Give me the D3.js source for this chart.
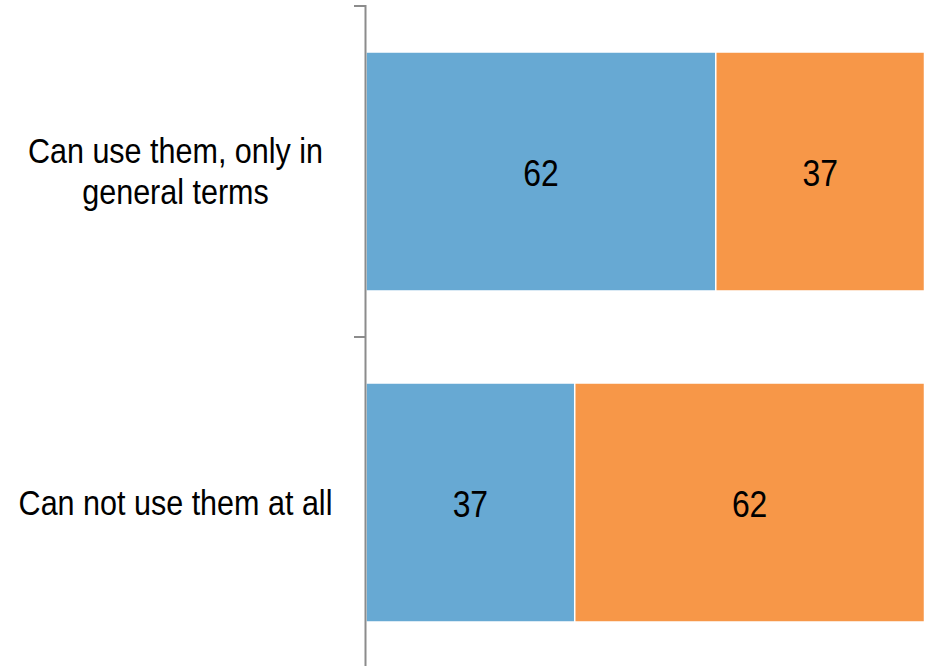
<!DOCTYPE html>
<html>
<head>
<meta charset="utf-8">
<script src="https://cdn.jsdelivr.net/npm/d3@7"></script>
<style>
  html, body { margin: 0; padding: 0; background: #fff; }
  svg { display: block; }
</style>
</head>
<body>
<svg id="chart" width="925" height="666"></svg>
<script>
// ---- data ----
const categories = [["Can use them, only in", "general terms"], ["Can not use them at all"]];
const categoryKeys = ["Can use them, only in general terms", "Can not use them at all"];
const seriesNames = ["Series A", "Series B"];
const seriesA = [62, 37];
const seriesB = [37, 62];
const colors = ["#67a9d3", "#f79748"];

const svg = d3.select("#chart");
const W = 925, H = 666;
const axisX = 366;

const rows = categoryKeys.map((k, i) => ({ key: k, lines: categories[i], values: [seriesA[i], seriesB[i]] }));

const x = d3.scaleLinear().domain([0, 99]).range([axisX, 924.5]);
const y = d3.scaleBand().domain(categoryKeys).range([6, 668]).paddingInner(0.278).paddingOuter(0.139);

// bars
const segs = [];
rows.forEach(r => {
  let acc = 0;
  r.values.forEach((v, j) => {
    segs.push({ key: r.key, x0: acc, x1: acc + v, v, j });
    acc += v;
  });
});

svg.append("g").selectAll("rect").data(segs).join("rect")
  .attr("x", d => x(d.x0))
  .attr("y", d => y(d.key))
  .attr("width", d => x(d.x1) - x(d.x0))
  .attr("height", y.bandwidth())
  .attr("fill", d => colors[d.j])
  .attr("stroke", "#fff")
  .attr("stroke-width", 1.5);

// value labels
const valFont = 37.5, valScale = 0.85;
svg.append("g").selectAll("text").data(segs).join("text")
  .attr("transform", d => {
    const cx = (x(d.x0) + x(d.x1)) / 2;
    const cy = y(d.key) + y.bandwidth() / 2 + valFont * 0.358 + 1;
    return `translate(${cx},${cy}) scale(${valScale},1)`;
  })
  .attr("text-anchor", "middle")
  .attr("font-family", "Liberation Sans, Arial, sans-serif")
  .attr("font-size", valFont)
  .attr("fill", "#000")
  .text(d => d.v);

// axis
const band = y.step();
const axisG = svg.append("g");
axisG.append("line")
  .attr("x1", axisX - 0.5).attr("x2", axisX - 0.5)
  .attr("y1", 5).attr("y2", H)
  .attr("stroke", "#8c8c8c").attr("stroke-width", 2);
const tickYs = categoryKeys.map(k => y(k) - y.paddingOuter() * band);
axisG.selectAll("line.tick").data(tickYs).join("line")
  .attr("class", "tick")
  .attr("x1", axisX - 12).attr("x2", axisX - 0.5)
  .attr("y1", d => d).attr("y2", d => d)
  .attr("stroke", "#8c8c8c").attr("stroke-width", 2);

// category labels
const labFont = 35.5, labScale = 0.86, lineGap = 41;
const labG = svg.append("g");
rows.forEach(r => {
  const cy = y(r.key) + y.bandwidth() / 2;
  const n = r.lines.length;
  r.lines.forEach((ln, i) => {
    const lineCenter = cy + (i - (n - 1) / 2) * lineGap;
    labG.append("text")
      .attr("transform", `translate(175.5,${lineCenter + labFont * 0.358 - 0.5}) scale(${labScale},1)`)
      .attr("text-anchor", "middle")
      .attr("font-family", "Liberation Sans, Arial, sans-serif")
      .attr("font-size", labFont)
      .attr("fill", "#000")
      .text(ln);
  });
});
</script>
</body>
</html>
